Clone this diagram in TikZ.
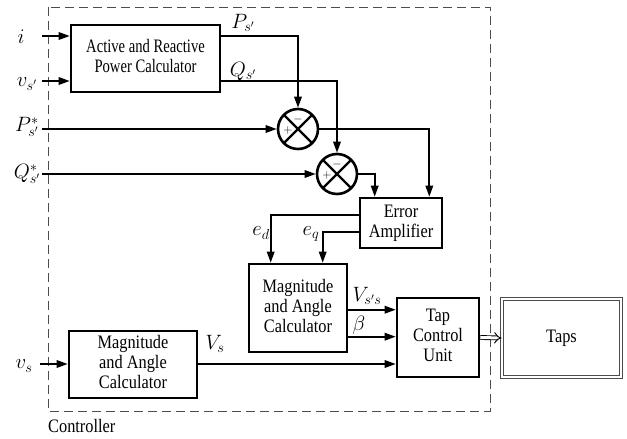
\documentclass[tikz,border=0pt]{standalone}
\usepackage{fontspec}
\usepackage{graphicx}
\setmainfont{Liberation Serif}
\newcommand\sqz[2][0.86]{\scalebox{#1}[1]{\begin{tabular}{@{}c@{}}#2\end{tabular}}}
\usetikzlibrary{arrows.meta,calc}
\begin{document}
\begin{tikzpicture}[x=1pt,y=-1pt,
  font=\fontsize{19}{20}\selectfont,
  blk/.style={draw, line width=2.6pt, inner sep=0pt, align=center},
  con/.style={line width=1.7pt, -{Triangle[length=11pt,width=7.5pt]}},
  lab/.style={inner sep=0pt, font=\fontsize{20}{22}\selectfont},
  sgn/.style={inner sep=0pt, font=\fontsize{13}{13}\selectfont},
  sumnode/.style={circle, draw, line width=2.6pt, minimum size=40pt, inner sep=0pt,
    path picture={\draw[line width=2.4pt]
      (path picture bounding box.north west) -- (path picture bounding box.south east)
      (path picture bounding box.north east) -- (path picture bounding box.south west);}},
  ctrl/.style={draw=black!70, line width=0.9pt, dash pattern=on 9pt off 5pt}
]
\useasboundingbox (0,0) rectangle (627,439);

% controller frame
\draw[ctrl] (48,7) rectangle (490,411);
\node[inner sep=0pt, anchor=base west] (ctl) at (48,433) {\sqz{Controller}};

% blocks
\node[blk, minimum width=149, minimum height=67] (act) at (145.5,58.5) {\sqz[0.77]{Active and Reactive\\Power Calculator}};
\node[sumnode] (s1) at (298,129) {};
\node[sumnode] (s2) at (337,174) {};
\node[sgn] (s1m) at ($(s1)+(0,-10)$) {$-$};
\node[sgn] (s1p) at ($(s1)+(-10,1)$) {$+$};
\node[sgn] (s2m) at ($(s2)+(0,-10)$) {$-$};
\node[sgn] (s2p) at ($(s2)+(-10,1)$) {$+$};
\node[blk, minimum width=82, minimum height=50] (err) at (401,223) {\sqz{Error\\Amplifier}};
\node[blk, minimum width=98, minimum height=88] (mag2) at (298,308) {\sqz{Magnitude\\and Angle\\Calculator}};
\node[blk, minimum width=82, minimum height=79] (tap) at (438,337.5) {\sqz{Tap\\Control\\Unit}};
\node[blk, minimum width=128, minimum height=67] (mag1) at (133,364.5) {\sqz{Magnitude\\and Angle\\Calculator}};
\node[draw=black!70, double, double distance=2pt, line width=0.7pt, minimum width=119, minimum height=78, inner sep=0pt] (taps) at (561.5,338) {\sqz{Taps}};

% input coordinates
\coordinate (iin) at (42,36);
\coordinate (vin) at (42,81);
\coordinate (pin) at (42,129);
\coordinate (qin) at (42,174);
\coordinate (vsin) at (40,364);

% input labels
\node[lab] (li) at (21,37) {$i$};
\node[lab] (lv) at (27,84) {$v_{s'}$};
\node[lab] (lp) at (27,127) {$P^{*}_{s'}$};
\node[lab] (lq) at (27,174) {$Q^{*}_{s'}$};
\node[lab] (lvs) at (24,366) {$v_{s}$};

% signal labels
\node[lab] (lps) at (243,23) {$P_{s'}$};
\node[lab] (lqs) at (243,71) {$Q_{s'}$};
\node[lab] (led) at (261,233) {$e_{d}$};
\node[lab] (leq) at (311,234) {$e_{q}$};
\node[lab] (lvss) at (367,296) {$V_{s's}$};
\node[lab] (lb) at (359,325) {$\beta$};
\node[lab] (lVs) at (215,344) {$V_{s}$};

% connectors
\draw[con] (iin) -- (iin -| act.west);
\draw[con] (vin) -- (vin -| act.west);
\draw[con] (iin -| act.east) -| (s1.north);
\draw[con] (vin -| act.east) -| (s2.north);
\draw[con] (pin) -- (s1.west);
\draw[con] (qin) -- (s2.west);
\draw[con] (s1.east) -| ($(err.north east)+(-14,0)$);
\draw[con] (s2.east) -| ($(err.north west)+(16,0)$);
\coordinate (edo) at ($(err.north west)+(0,18)$);
\coordinate (eqo) at ($(err.north west)+(0,35)$);
\draw[con] (edo) -| ($(mag2.north west)+(23,0)$);
\draw[con] (eqo) -| ($(mag2.north west)+(75,0)$);
\coordinate (vso) at ($(mag2.north east)+(0,47)$);
\coordinate (bo) at ($(mag2.north east)+(0,74)$);
\draw[con] (vso) -- (vso -| tap.west);
\draw[con] (bo) -- (bo -| tap.west);
\draw[con] (vsin) -- (vsin -| mag1.west);
\draw[con] (vsin -| mag1.east) -- (vsin -| tap.west);
\draw[double, double distance=3pt, line width=0.9pt, -{Implies}] (tap.east) -- (taps.west);
\end{tikzpicture}
\end{document}
